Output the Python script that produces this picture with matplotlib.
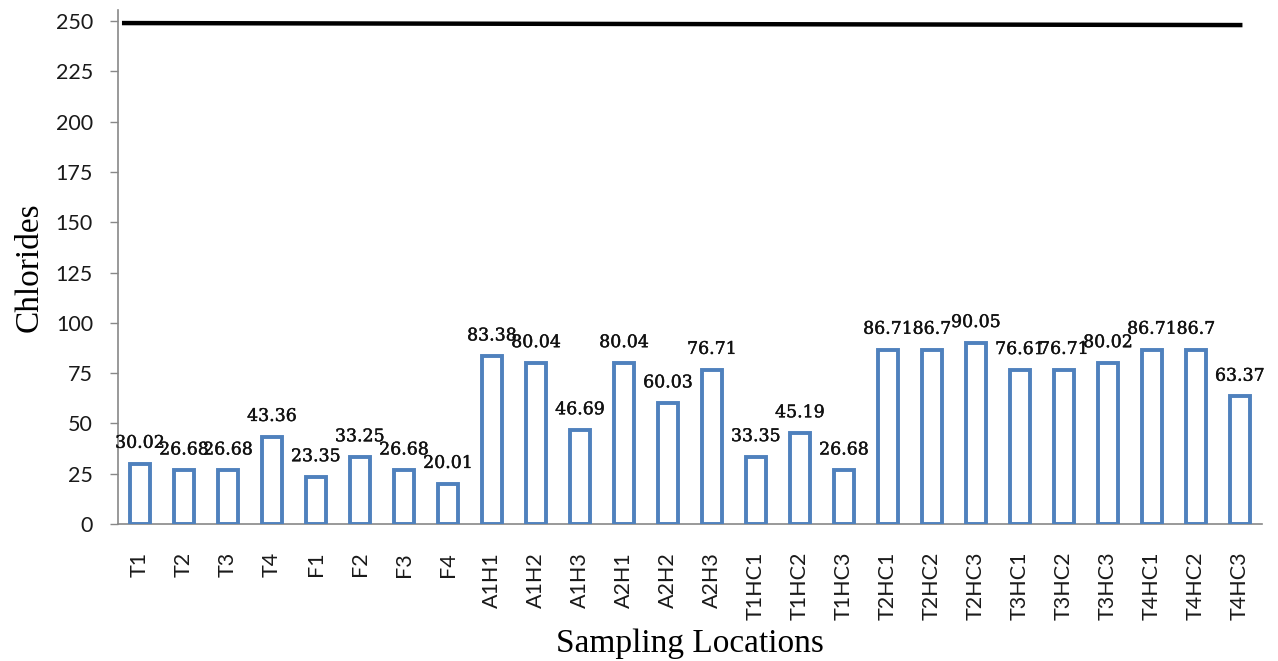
import matplotlib
matplotlib.use("Agg")
import matplotlib.pyplot as plt
import matplotlib.transforms as mtransforms
import matplotlib.patheffects as pe

# Chloride concentration at each sampling location
locations = ["T1", "T2", "T3", "T4", "F1", "F2", "F3", "F4",
             "A1H1", "A1H2", "A1H3", "A2H1", "A2H2", "A2H3",
             "T1HC1", "T1HC2", "T1HC3", "T2HC1", "T2HC2", "T2HC3",
             "T3HC1", "T3HC2", "T3HC3", "T4HC1", "T4HC2", "T4HC3"]
chlorides = [30.02, 26.68, 26.68, 43.36, 23.35, 33.25, 26.68, 20.01,
             83.38, 80.04, 46.69, 80.04, 60.03, 76.71,
             33.35, 45.19, 26.68, 86.71, 86.7, 90.05,
             76.61, 76.71, 80.02, 86.71, 86.7, 63.37]
# Permissible limit line (drawn with a slight slope, start and end value)
limit_line = [249.0, 248.0]

y_ticks = [0, 25, 50, 75, 100, 125, 150, 175, 200, 225, 250]

fig = plt.figure(figsize=(12.78, 6.61), dpi=100)
ax = fig.add_axes([0.0923, 0.2073, 0.8951, 0.7776])

x = list(range(len(locations)))
bars = ax.bar(x, chlorides, width=0.46, facecolor="white",
              edgecolor="#4F81BD", linewidth=2.8, zorder=3)

for xi, v in zip(x, chlorides):
    ax.annotate(f"{v:g}", (xi, v), xytext=(0, 8.5), textcoords="offset points",
                ha="center", va="bottom", fontsize=12.5,
                family="DejaVu Serif", color="#111111", zorder=4,
                path_effects=[pe.withStroke(linewidth=0.3, foreground="#111111")])

trans = mtransforms.blended_transform_factory(ax.transAxes, ax.transData)
ax.plot([0.0035, 0.983], limit_line, color="black", linewidth=3.2,
        transform=trans, solid_capstyle="butt", zorder=5)

ax.set_xlim(-0.5, len(locations) - 0.5)
ax.set_ylim(0, 255.5)
ax.set_yticks(y_ticks)
ax.set_xticks(x)
ax.set_xticklabels(locations, rotation=90, family="Lato", fontsize=15.5,
                   color="#1a1a1a")
ax.tick_params(axis="x", length=0, pad=20)
ax.tick_params(axis="y", length=6, width=1, color="#888888", pad=12,
               labelsize=15.5, labelcolor="#1a1a1a", direction="out")
for lbl in ax.get_yticklabels():
    lbl.set_family("Lato")

for side in ("top", "right"):
    ax.spines[side].set_visible(False)
for side in ("left", "bottom"):
    ax.spines[side].set_color("#888888")
    ax.spines[side].set_linewidth(1.2)

ax.set_ylabel("Chlorides", family="Liberation Serif", fontsize=24,
              labelpad=8)
ax.set_xlabel("Sampling Locations", family="Liberation Serif", fontsize=24,
              labelpad=6)

fig.savefig("out.png", dpi=100)
